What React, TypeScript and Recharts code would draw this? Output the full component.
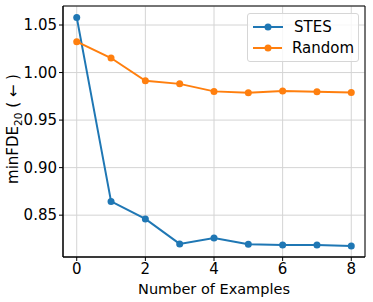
import { LineChart, Line, XAxis, YAxis, CartesianGrid, ReferenceArea } from "recharts"

// number of in-context examples
const examples = [0, 1, 2, 3, 4, 5, 6, 7, 8]
const stesValues = [1.058, 0.8645, 0.846, 0.8198, 0.826, 0.8195, 0.8185, 0.8185, 0.8175]
const randomValues = [1.0325, 1.0153, 0.9913, 0.9881, 0.9802, 0.9787, 0.9805, 0.9798, 0.9791]
const xTicks = [0, 2, 4, 6, 8]
const yTicks = [0.85, 0.9, 0.95, 1.0, 1.05]

const series = [
  { key: "stes", name: "STES", color: "#1f77b4" },
  { key: "random", name: "Random", color: "#ff7f0e" },
]

const data = examples.map((n, i) => ({ n, stes: stesValues[i], random: randomValues[i] }))

const FONT = "DejaVu Sans"

const ChartLegend = () => (
  <div
    style={{
      position: "absolute",
      left: 247,
      top: 13,
      width: 112,
      boxSizing: "border-box",
      background: "rgba(255,255,255,0.8)",
      border: "1px solid #d6d6d6",
      borderRadius: 3,
      padding: "2px 4px 3px 4px",
      fontFamily: FONT,
      fontSize: 15,
      color: "#000",
    }}
  >
    {series.map((s) => (
      <div key={s.key} style={{ display: "flex", alignItems: "center", height: 21 }}>
        <svg width={32} height={10} style={{ marginRight: 10 }}>
          <line x1={1} y1={5} x2={31} y2={5} stroke={s.color} strokeWidth={2} />
          <circle cx={16} cy={5} r={3.5} fill={s.color} />
        </svg>
        <span>{s.name}</span>
      </div>
    ))}
  </div>
)

const YLabel = () => (
  <text
    x={0}
    y={0}
    transform="translate(18,129) rotate(-90)"
    textAnchor="middle"
    fontFamily={FONT}
    fontSize={15}
    fill="#000"
  >
    minFDE
    <tspan dy={4} fontSize={10.5}>20</tspan>
    <tspan dy={-4}> ( ← )</tspan>
  </text>
)

export default function App() {
  return (
    <div style={{ position: "absolute", left: 0, top: 0, width: 373, height: 302, background: "#fff" }}>
      <LineChart
        width={373}
        height={302}
        data={data}
        margin={{ top: 6, right: 8, left: 0, bottom: 0 }}
        style={{ fontFamily: FONT }}
      >
        <CartesianGrid stroke="#d4d4d4" strokeWidth={1} vertical horizontal />
        <XAxis
          dataKey="n"
          type="number"
          domain={[-0.4, 8.4]}
          ticks={xTicks}
          allowDataOverflow
          height={45}
          tickSize={4}
          stroke="#000"
          tick={{ fill: "#000", fontSize: 15, fontFamily: FONT }}
          label={{ value: "Number of Examples", position: "insideBottom", offset: 8, fill: "#000", fontSize: 14.5, fontFamily: FONT }}
        />
        <YAxis
          type="number"
          domain={[0.806, 1.07]}
          ticks={yTicks}
          allowDataOverflow
          width={63}
          tickSize={4}
          stroke="#000"
          tickFormatter={(v: number) => v.toFixed(2)}
          tick={{ fill: "#000", fontSize: 15, fontFamily: FONT }}
          label={<YLabel />}
        />
        {series.map((s) => (
          <Line
            key={s.key}
            dataKey={s.key}
            name={s.name}
            stroke={s.color}
            strokeWidth={2}
            dot={{ r: 3.5, fill: s.color, stroke: s.color, strokeWidth: 0 }}
            activeDot={false}
            isAnimationActive={false}
          />
        ))}
        <ReferenceArea x1={-0.4} x2={8.4} y1={0.806} y2={1.07} fill="none" stroke="#000" strokeWidth={1} ifOverflow="visible" />
      </LineChart>
      <ChartLegend />
    </div>
  )
}
